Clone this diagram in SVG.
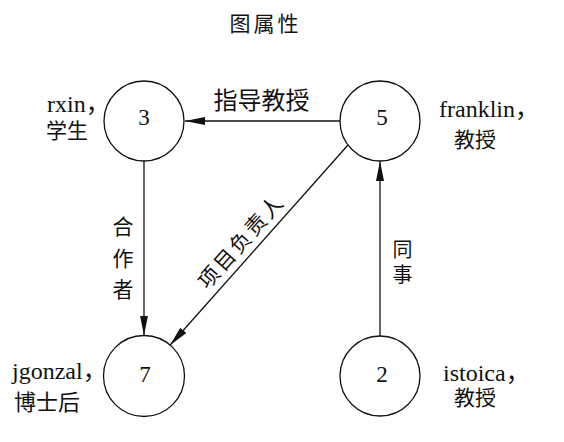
<svg xmlns="http://www.w3.org/2000/svg" width="564" height="442" viewBox="0 0 564 442">
<style>
.node{fill:#fff;stroke:#111;stroke-width:1.3}
.edge{fill:none;stroke:#111;stroke-width:1.3}
.num{font-family:"Liberation Serif","Noto Sans CJK SC",serif;font-size:23px;fill:#111;text-anchor:middle}
.lat{font-family:"Liberation Serif","Noto Sans CJK SC",serif;font-size:24px;fill:#111}
.cjk{font-family:"Noto Sans CJK SC","Liberation Sans",sans-serif;font-size:21px;fill:#111}
.elab{font-family:"Noto Sans CJK SC","Liberation Sans",sans-serif;fill:#111;text-anchor:middle}
</style>
<defs>
<marker id="arr" markerUnits="userSpaceOnUse" markerWidth="20" markerHeight="8" refX="20" refY="4" orient="auto">
<path d="M0,0 L20,4 L0,8 z" fill="#111"/>
</marker>
</defs>
<rect width="564" height="442" fill="#fff"/>
<text class="elab" x="265.5" y="31.4" style="font-size:21px;letter-spacing:3px">图属性</text>
<g id="connectors">
<line id="e5-3" class="edge" x1="340" y1="121" x2="185" y2="121" marker-end="url(#arr)"/>
<line id="e3-7" class="edge" x1="144" y1="161" x2="144" y2="335.5" marker-end="url(#arr)"/>
<line id="e5-7" class="edge" x1="348" y1="145" x2="170" y2="345.3" marker-end="url(#arr)"/>
<line id="e2-5" class="edge" x1="380" y1="336" x2="380" y2="161" marker-end="url(#arr)"/>
<text class="elab" x="261.5" y="109" style="font-size:24px">指导教授</text>
<text class="elab" style="font-size:21px"><tspan x="123" y="234">合</tspan><tspan x="123" y="265.5">作</tspan><tspan x="123" y="297">者</tspan></text>
<text class="elab" style="font-size:20px"><tspan x="402.5" y="256.5">同</tspan><tspan x="402.5" y="281.5">事</tspan></text>
<text class="elab" transform="translate(240,242) rotate(-48.4)" x="1.25" y="8" style="font-size:21px;letter-spacing:2.5px">项目负责人</text>
</g>
<g id="node3">
<circle class="node" cx="144" cy="121" r="40"/>
<text class="num" x="144" y="125">3</text>
<text class="lat" x="47" y="112">rxin，</text>
<text class="cjk" x="46" y="137.5">学生</text>
</g>
<g id="node5">
<circle class="node" cx="380" cy="121" r="40"/>
<text class="num" x="382" y="125">5</text>
<text class="lat" x="439" y="117">franklin，</text>
<text class="cjk" x="454" y="146.5">教授</text>
</g>
<g id="node7">
<circle class="node" cx="144" cy="376" r="40.5"/>
<text class="num" x="145" y="382">7</text>
<text class="lat" x="12" y="379">jgonzal，</text>
<text class="cjk" x="14" y="409.5" style="font-size:22px">博士后</text>
</g>
<g id="node2">
<circle class="node" cx="380" cy="376" r="40"/>
<text class="num" x="382" y="382">2</text>
<text class="lat" x="443" y="381">istoica，</text>
<text class="cjk" x="454" y="405">教授</text>
</g>
</svg>
